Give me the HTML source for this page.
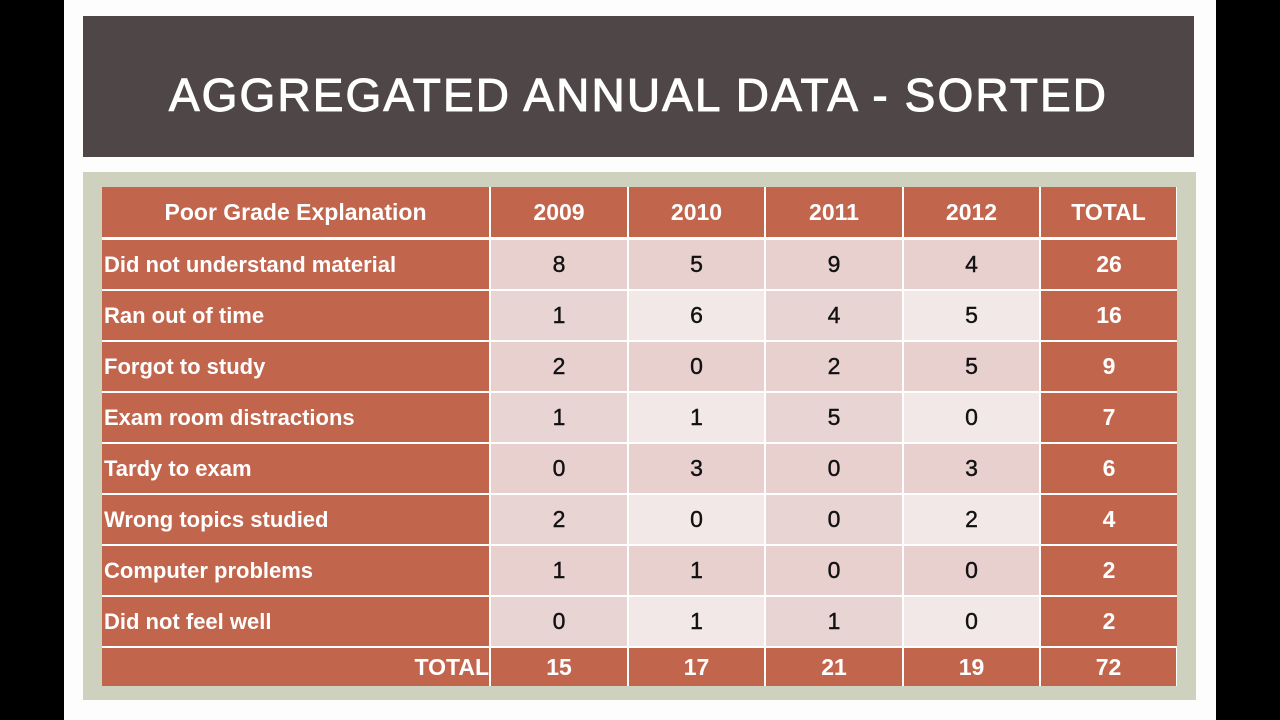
<!DOCTYPE html>
<html><head><meta charset="utf-8"><style>
*{margin:0;padding:0;box-sizing:border-box}
body{width:1280px;height:720px;background:#000;position:relative;overflow:hidden;font-family:"Liberation Sans",sans-serif}
.slide{position:absolute;left:64px;top:0;width:1152px;height:720px;background:#fdfdfd}
.title{position:absolute;left:83px;top:16px;width:1111px;height:141px;background:#4f4647}
.title span{position:absolute;left:0;width:100%;top:55px;line-height:48px;color:#fff;font-size:46px;letter-spacing:2.1px;text-align:center;-webkit-text-stroke:1px #fff}
.panel{position:absolute;left:83px;top:172px;width:1113px;height:528px;background:#cdd1bd}
.c{position:absolute;display:flex;align-items:center;justify-content:center;font-weight:bold;font-size:23px}
.h{background:#c2654d;color:#fff}
.l{justify-content:flex-start;padding-left:2px;font-size:22px}
.d{color:#111;font-weight:normal;font-size:23px;-webkit-text-stroke:0.4px #111}
</style></head><body>
<div class="slide"></div>
<div class="title"><span>AGGREGATED ANNUAL DATA - SORTED</span></div>
<div class="panel"></div>
<div id="t"></div>
<script>
var cols=[[102,490],[490,628],[628,765],[765,903],[903,1040],[1040,1177]];
var rows=[["Did not understand material",8,5,9,4,26],["Ran out of time",1,6,4,5,16],["Forgot to study",2,0,2,5,9],["Exam room distractions",1,1,5,0,7],["Tardy to exam",0,3,0,3,6],["Wrong topics studied",2,0,0,2,4],["Computer problems",1,1,0,0,2],["Did not feel well",0,1,1,0,2]];
var h='';
function cell(x0,x1,y0,y1,cls,txt,bg){h+='<div class="c '+cls+'" style="left:'+x0+'px;top:'+y0+'px;width:'+(x1-x0)+'px;height:'+(y1-y0)+'px;'+(bg?'background:'+bg:'')+'">'+txt+'</div>';}
h+='<div style="position:absolute;left:102px;top:187px;width:1075px;height:499px;background:#fff"></div>';
var hd=["Poor Grade Explanation","2009","2010","2011","2012","TOTAL"];
for(var j=0;j<6;j++)cell(cols[j][0]+(j?1:0),cols[j][1]-1,187,237,'h',hd[j]);
for(var i=0;i<8;i++){var y0=240+i*51,y1=y0+49;
 for(var j=0;j<6;j++){var r=rows[i];
  if(j==0)cell(102,cols[0][1]-1,y0,y1,'h l',r[0]);
  else if(j==5)cell(cols[5][0]+1,1177,y0,y1,'h',r[5]);
  else{var bg=(i%2==0)?'#e8d0cf':(j%2==1?'#e7d4d3':'#f2e8e8');cell(cols[j][0]+1,cols[j][1]-1,y0,y1,'d',r[j],bg);}
 }}
var tot=["TOTAL",15,17,21,19,72];
for(var j=0;j<6;j++){cell(cols[j][0]+(j?1:0),cols[j][1]-1,648,686,'h',tot[j]);}
document.getElementById('t').innerHTML=h;
var first=document.querySelectorAll('.c');
first[first.length-6].style.justifyContent='flex-end';
</script>
</body></html>
